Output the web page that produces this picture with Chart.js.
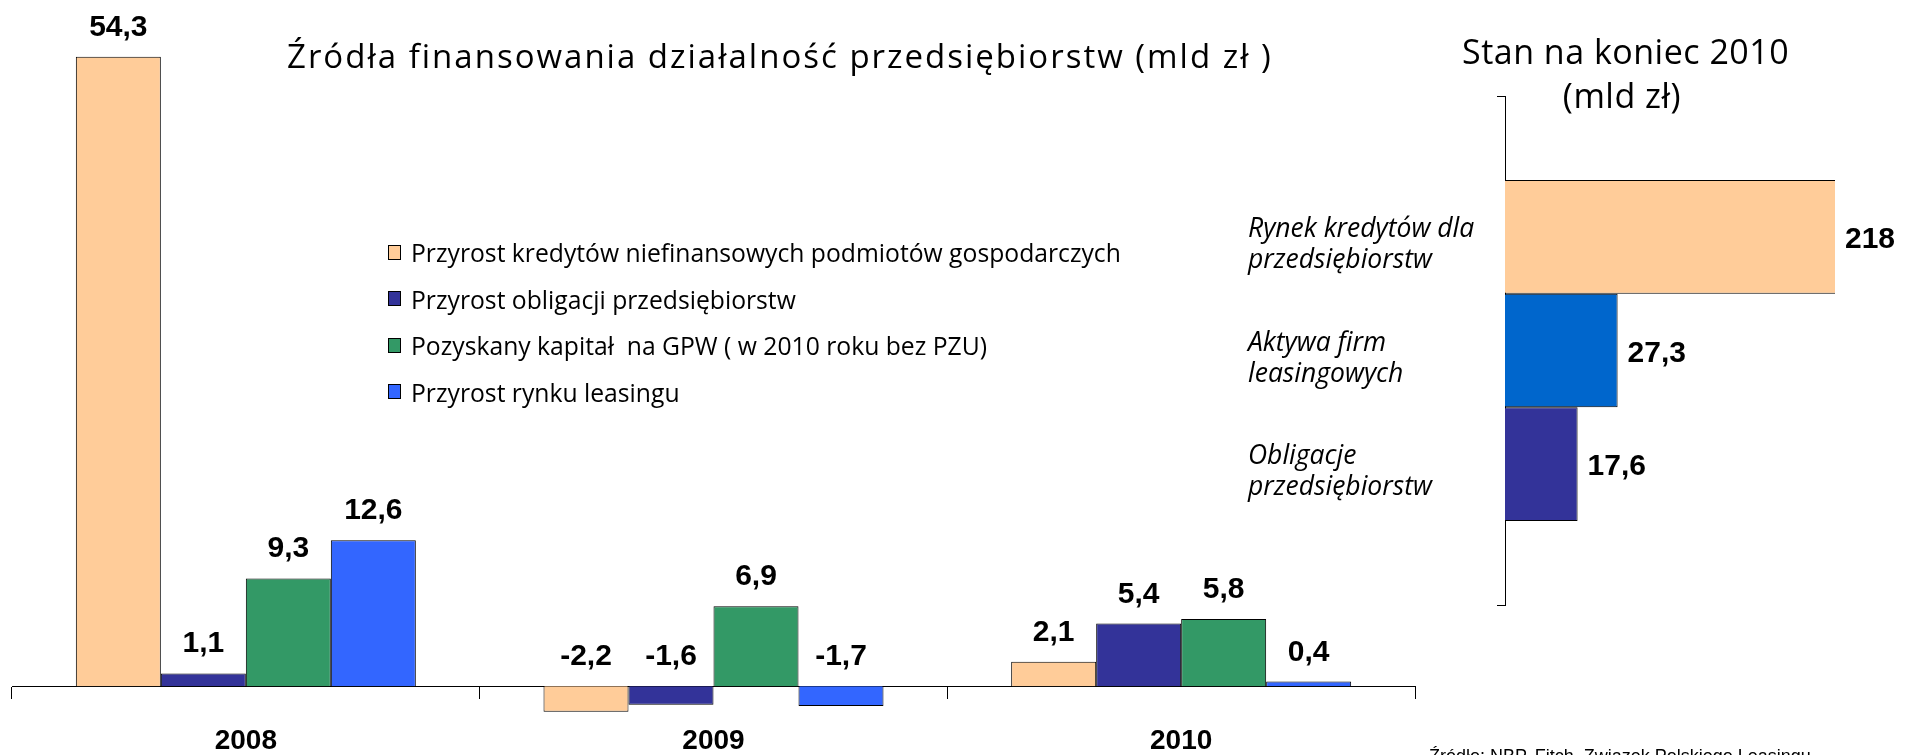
<!DOCTYPE html>
<html lang="pl">
<head>
<meta charset="utf-8">
<title>Źródła finansowania działalność przedsiębiorstw</title>
<script src="https://cdn.jsdelivr.net/npm/chart.js@4.4.1/dist/chart.umd.min.js"></script>
<style>
  html, body { margin: 0; padding: 0; background: #fff; }
  body { position: relative; width: 1912px; height: 755px; overflow: hidden; color: #000; font-family: "Open Sans", sans-serif; }
  canvas { position: absolute; top: 0; }
  #mainChart { left: 0; }
  #sideChart { left: 1200px; }
  .txt { position: absolute; white-space: nowrap; line-height: 1; }
  #mainTitle { left: 287px; top: 39px; font-size: 33px; letter-spacing: 2px; }
  #sideTitle { left: 1462px; width: 300px; top: 29px; font-size: 34px; line-height: 44px; letter-spacing: 0.5px; text-align: center; }
  #sideTitle span { display: inline-block; margin-left: 20px; }
  #legend { left: 388px; top: 229px; font-size: 26px; }
  .leg-row { display: flex; align-items: center; height: 46.5px; white-space: pre; }
  .leg-box { width: 13px; height: 15px; border: 1px solid #000; margin-right: 10px; box-sizing: border-box; }
  .leg-text { display: inline-block; transform: scaleX(0.95); transform-origin: left center; }
  #source { left: 1429px; top: 747px; font-family: "Liberation Sans", Arial, sans-serif; font-size: 18px; }
</style>
</head>
<body>
<canvas id="mainChart" width="1440" height="755"></canvas>
<canvas id="sideChart" width="712" height="755"></canvas>
<div class="txt" id="mainTitle">Źródła finansowania działalność przedsiębiorstw (mld zł )</div>
<div class="txt" id="sideTitle">Stan na koniec 2010<br><span>(mld zł)</span></div>
<div class="txt" id="legend"></div>
<div class="txt" id="source">Źródło: NBP, Fitch, Związek Polskiego Leasingu</div>
<script>
// ====== DANE ======
const years = ["2008", "2009", "2010"];
const seriesNames = [
  "Przyrost kredytów niefinansowych podmiotów gospodarczych",
  "Przyrost obligacji przedsiębiorstw",
  "Pozyskany kapitał  na GPW ( w 2010 roku bez PZU)",
  "Przyrost rynku leasingu",
];
const kredytyValues = [54.3, -2.2, 2.1];
const obligacjeValues = [1.1, -1.6, 5.4];
const gpwValues = [9.3, 6.9, 5.8];
const leasingValues = [12.6, -1.7, 0.4];
const seriesColors = ["#FFCC99", "#333399", "#339966", "#3366FF"];

const stanNames = [
  ["Rynek kredytów dla", "przedsiębiorstw"],
  ["Aktywa firm", "leasingowych"],
  ["Obligacje", "przedsiębiorstw"],
];
const stanValues = [218, 27.3, 17.6];
const stanColors = ["#FFCC99", "#0066CC", "#333399"];

const fmt = (v) => String(v).replace(".", ",");
const labelFont = "bold 30px 'Liberation Sans', Arial, sans-serif";

// ====== ETYKIETY WARTOŚCI ======
const valueLabels = {
  id: "valueLabels",
  afterDatasetsDraw(chart) {
    const ctx = chart.ctx;
    ctx.save();
    ctx.font = labelFont;
    ctx.fillStyle = "#000";
    ctx.textAlign = "center";
    ctx.textBaseline = "alphabetic";
    chart.data.datasets.forEach((ds, i) => {
      chart.getDatasetMeta(i).data.forEach((bar, j) => {
        ctx.fillText(fmt(ds.data[j]), bar.x, Math.min(bar.y, bar.base) - 21);
      });
    });
    ctx.restore();
  },
};

const sideLabels = {
  id: "sideLabels",
  afterDatasetsDraw(chart) {
    const { ctx, chartArea } = chart;
    ctx.save();
    ctx.fillStyle = "#000";
    ctx.textAlign = "left";
    ctx.textBaseline = "middle";
    chart.data.datasets.forEach((ds, i) => {
      const bar = chart.getDatasetMeta(i).data[0];
      ctx.font = labelFont;
      ctx.fillText(fmt(ds.data[0]), Math.min(bar.x, chartArea.right) + 10, bar.y + 3);
      ctx.font = "italic 26.5px 'Open Sans', sans-serif";
      stanNames[i].forEach((line, k) => {
        ctx.fillText(line, chartArea.left - 257, bar.y + 8 + (k - 0.5) * 31);
      });
    });
    ctx.restore();
  },
};

// ====== LEGENDA ======
const legend = document.getElementById("legend");
seriesNames.forEach((name, i) => {
  const row = document.createElement("div");
  row.className = "leg-row";
  row.innerHTML = `<span class="leg-box" style="background:${seriesColors[i]}"></span><span class="leg-text">${name}</span>`;
  legend.appendChild(row);
});

// ====== WYKRES GŁÓWNY ======
const mainSeries = [kredytyValues, obligacjeValues, gpwValues, leasingValues];
new Chart(document.getElementById("mainChart"), {
  type: "bar",
  data: {
    labels: years,
    datasets: mainSeries.map((vals, i) => ({
      label: seriesNames[i],
      data: vals,
      backgroundColor: seriesColors[i],
      borderColor: "#000",
      borderWidth: 1,
      categoryPercentage: 0.727,
      barPercentage: 1,
    })),
  },
  options: {
    responsive: false,
    animation: false,
    layout: { padding: { left: 12, right: 25, top: 37, bottom: 34 } },
    plugins: { legend: { display: false }, tooltip: { enabled: false } },
    scales: {
      x: {
        position: { y: 0 },
        grid: { offset: true, drawOnChartArea: false, tickLength: 12, color: "#000", lineWidth: 1 },
        border: { color: "#000", width: 1 },
        ticks: { color: "#000", padding: 26, font: { family: "'Liberation Sans', Arial, sans-serif", size: 28, weight: "bold" } },
      },
      y: { display: false, min: -3, max: 56 },
    },
  },
  plugins: [valueLabels],
});

// ====== STAN NA KONIEC 2010 ======
new Chart(document.getElementById("sideChart"), {
  type: "bar",
  data: {
    labels: [""],
    datasets: stanValues.map((v, i) => ({
      label: stanNames[i].join(" "),
      data: [v],
      backgroundColor: stanColors[i],
      borderColor: "#000",
      borderWidth: 1,
      categoryPercentage: 0.67,
      barPercentage: 1,
      clip: { left: false, top: false, right: 0, bottom: false },
    })),
  },
  options: {
    indexAxis: "y",
    responsive: false,
    animation: false,
    layout: { padding: { left: 297, right: 77, top: 96, bottom: 150 } },
    plugins: { legend: { display: false }, tooltip: { enabled: false } },
    scales: {
      x: { display: false, min: 0, max: 80 },
      y: {
        grid: { offset: true, drawOnChartArea: false, tickLength: 8, color: "#000" },
        border: { color: "#000", width: 1 },
        ticks: { display: false },
      },
    },
  },
  plugins: [sideLabels],
});
</script>
</body>
</html>
